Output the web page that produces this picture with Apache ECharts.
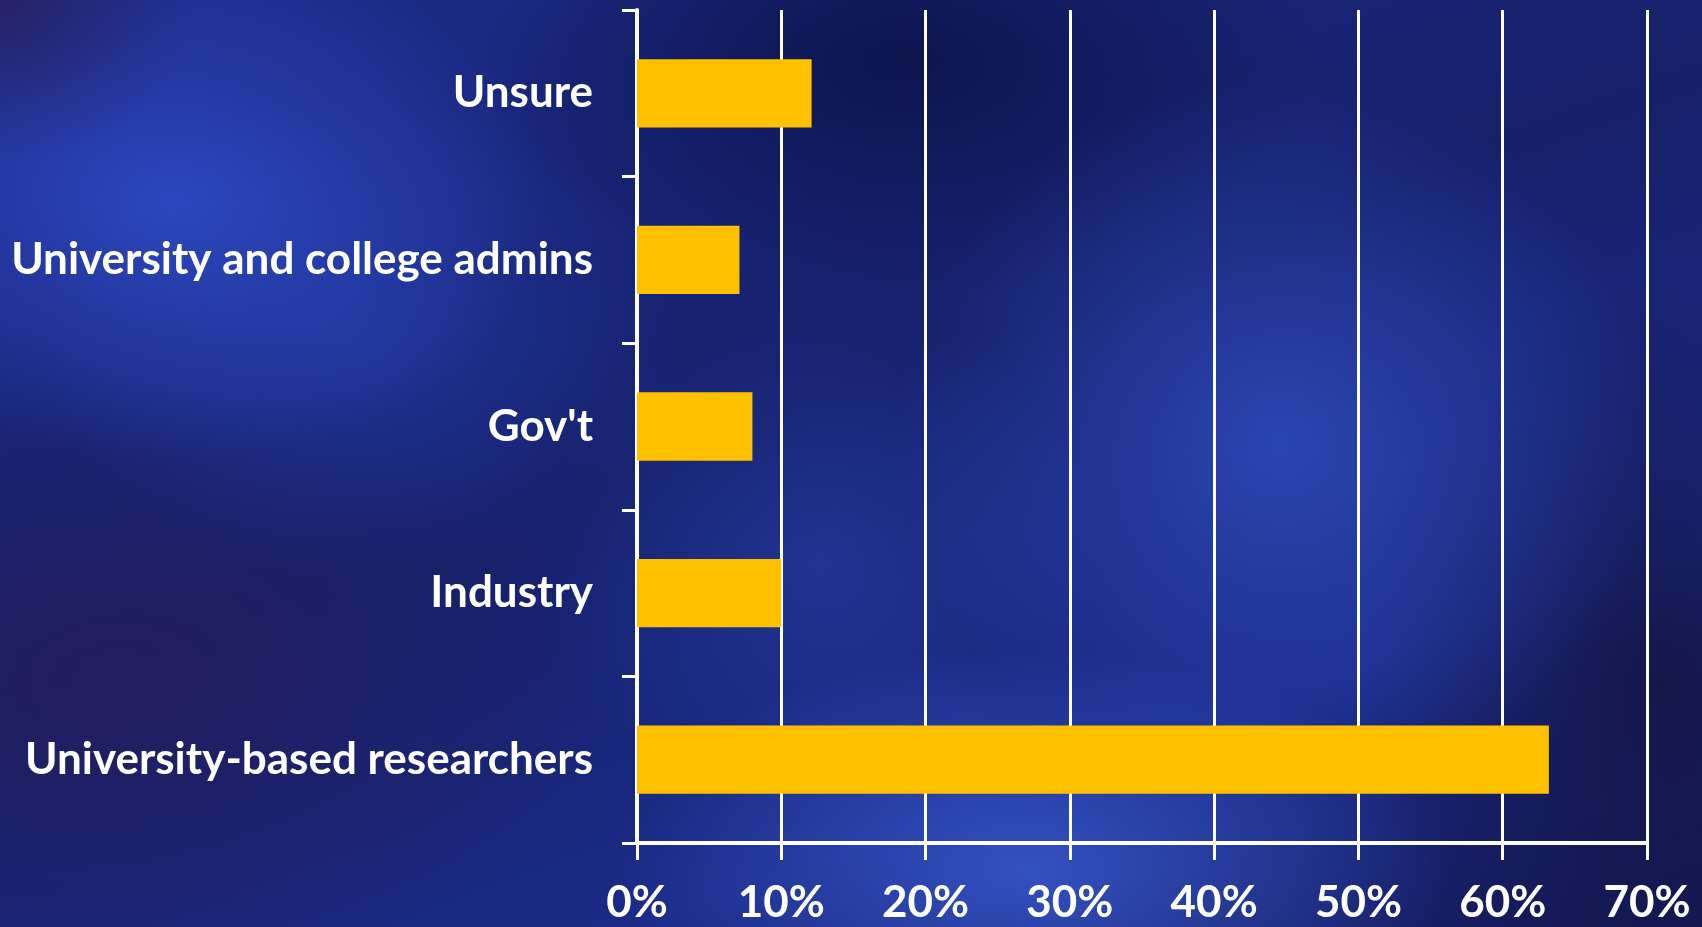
<!DOCTYPE html>
<html>
<head>
<meta charset="utf-8">
<script src="https://cdn.jsdelivr.net/npm/echarts@6/dist/echarts.min.js"></script>
<style>
  html, body { margin: 0; padding: 0; width: 100%; height: 100%; overflow: hidden; }
  body {
    background-color: #121a5c;
    background-image:
      radial-gradient(ellipse 200px 160px at 0px 0px, rgba(40, 30, 90, 0.8), rgba(40, 30, 90, 0) 100%),
      radial-gradient(ellipse 380px 260px at 170px 200px, rgba(50, 80, 210, 0.75), rgba(50, 80, 210, 0) 100%),
      radial-gradient(ellipse 320px 240px at 360px 340px, rgba(40, 70, 190, 0.45), rgba(40, 70, 190, 0) 100%),
      radial-gradient(ellipse 380px 360px at 1280px 440px, rgba(55, 90, 215, 0.6), rgba(55, 90, 215, 0) 100%),
      radial-gradient(ellipse 420px 220px at 1030px 870px, rgba(60, 95, 215, 0.75), rgba(60, 95, 215, 0) 100%),
      radial-gradient(ellipse 280px 260px at 820px 560px, rgba(45, 75, 190, 0.4), rgba(45, 75, 190, 0) 100%),
      radial-gradient(ellipse 480px 300px at 120px 680px, rgba(38, 28, 90, 0.75), rgba(38, 28, 90, 0) 100%),
      radial-gradient(ellipse 420px 240px at 900px 60px, rgba(10, 18, 70, 0.85), rgba(10, 18, 70, 0) 100%),
      radial-gradient(ellipse 300px 400px at 1660px 680px, rgba(20, 18, 60, 0.75), rgba(20, 18, 60, 0) 100%),
      linear-gradient(160deg, #1c2c8c 0%, #16206a 45%, #1a2a86 75%, #141a58 100%);
  }
  #main { width: 1702px; height: 927px; }
</style>
</head>
<body>
<div id="main"></div>
<script>
// groups, top to bottom
const groups = ['Unsure', 'University and college admins', "Gov't", 'Industry', 'University-based researchers'];
// share of respondents (%)
const shares = [12.1, 7.1, 8.0, 10.0, 63.2];
const xTicks = { min: 0, max: 70, step: 10 };

const chart = echarts.init(document.getElementById('main'));

const option = {
  backgroundColor: 'transparent',
  animation: false,
  textStyle: { fontFamily: 'Lato', fontWeight: 'bold' },
  grid: { left: 637, right: 55, top: 10, bottom: 84 },
  xAxis: {
    type: 'value',
    min: xTicks.min,
    max: xTicks.max,
    interval: xTicks.step,
    axisLine: { show: true, lineStyle: { color: '#ffffff', width: 4 } },
    axisTick: { show: true, length: 17, lineStyle: { color: '#ffffff', width: 3 } },
    splitLine: { show: true, lineStyle: { color: '#ffffff', width: 3 } },
    axisLabel: {
      color: '#ffffff',
      fontSize: 44,
      fontWeight: 'bold',
      fontFamily: 'Lato',
      margin: 38,
      formatter: '{value}%'
    }
  },
  yAxis: {
    type: 'category',
    inverse: true,
    data: groups,
    axisLine: { show: true, lineStyle: { color: '#ffffff', width: 4 } },
    axisTick: { show: true, length: 15, lineStyle: { color: '#ffffff', width: 3 } },
    axisLabel: {
      color: '#ffffff',
      fontSize: 44,
      fontWeight: 'bold',
      fontFamily: 'Lato',
      margin: 44
    }
  },
  series: [{
    type: 'bar',
    data: shares,
    barWidth: '41%',
    itemStyle: { color: '#FFC000' }
  }]
};

chart.setOption(option);
</script>
</body>
</html>
